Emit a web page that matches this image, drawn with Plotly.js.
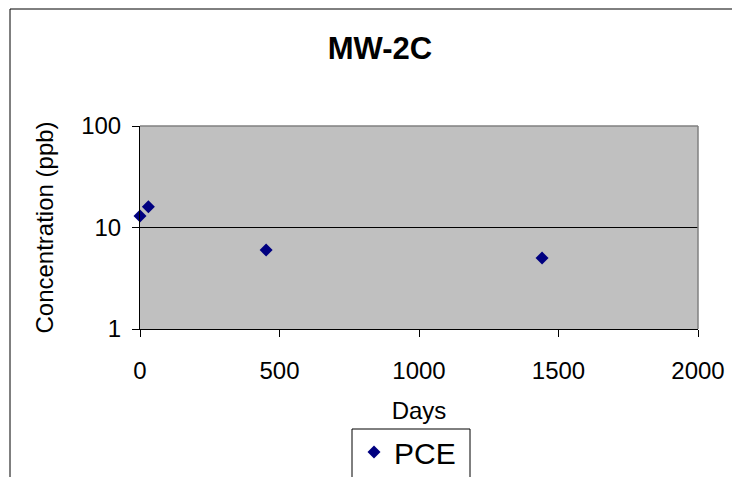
<!DOCTYPE html>
<html>
<head>
<meta charset="utf-8">
<script src="https://cdn.plot.ly/plotly-3.0.1.min.js"></script>
<style>html,body{margin:0;padding:0;background:#fff;}#chart{width:732px;height:477px;}</style>
</head>
<body>
<div id="chart"></div>
<script>
const days = [0, 30, 452, 1441];
const pce = [13, 16, 6, 5];
const seriesName = 'PCE';
const chartTitle = 'MW-2C';
const xTickVals = [0, 500, 1000, 1500, 2000];
const yTickVals = [1, 10, 100];
const yTickText = ['1', '10', '100'];

const font = 'Arial, "Liberation Sans", sans-serif';

const trace = {
  x: days, y: pce, name: seriesName, type: 'scatter', mode: 'markers',
  marker: {symbol: 'diamond', size: 10, color: '#000080'},
  showlegend: true, cliponaxis: false
};

const px = v => (v - 140) / 558;      // pixel x -> paper x
const py = v => (329 - v) / 203;      // pixel y -> paper y

const layout = {
  width: 732, height: 477,
  margin: {l: 140, r: 34, t: 126, b: 148, pad: 0, autoexpand: false},
  paper_bgcolor: '#ffffff', plot_bgcolor: '#C0C0C0',
  font: {family: font, color: '#000000', size: 24},
  title: {text: '<b>' + chartTitle + '</b>', font: {family: font, size: 31, color: '#000'},
    x: px(380), xref: 'paper', xanchor: 'center', y: 1 - 48/477, yref: 'container', yanchor: 'middle'},
  xaxis: {
    range: [0, 2000], tickvals: xTickVals, ticktext: xTickVals.map(String),
    showgrid: false, zeroline: false, showline: true, linecolor: '#000', linewidth: 1,
    ticks: 'outside', ticklen: 7, tickcolor: '#000', tickfont: {size: 24},
    ticklabelstandoff: 13,
    title: {text: 'Days', font: {size: 24}, standoff: 19}, automargin: false
  },
  yaxis: {
    type: 'log', range: [0, 2], tickvals: yTickVals, ticktext: yTickText,
    showgrid: true, gridcolor: '#000', gridwidth: 1, zeroline: false,
    showline: true, linecolor: '#000', linewidth: 1,
    ticks: 'outside', ticklen: 7, tickcolor: '#000', tickfont: {size: 24},
    ticklabelstandoff: 6,
    title: {text: 'Concentration (ppb)', font: {size: 24}, standoff: 20}, automargin: false
  },
  legend: {x: px(354), y: 1 - 426/477, xref: 'paper', yref: 'container', xanchor: 'left', yanchor: 'top',
    bgcolor: 'rgba(0,0,0,0)', borderwidth: 0, font: {size: 30}},
  shapes: [
    {type: 'rect', xref: 'paper', yref: 'paper', x0: px(10), x1: 2, y0: -2, y1: py(9),
      line: {color: '#000', width: 1}, fillcolor: 'rgba(0,0,0,0)', layer: 'below'},
    {type: 'rect', xref: 'paper', yref: 'paper', x0: px(352), x1: px(470), y0: py(520), y1: py(429),
      line: {color: '#000', width: 1}, fillcolor: '#fff', layer: 'below'},
    {type: 'line', xref: 'paper', yref: 'paper', x0: 0, x1: 1, y0: 1, y1: 1,
      line: {color: '#808080', width: 1.5}, layer: 'above'},
    {type: 'line', xref: 'paper', yref: 'paper', x0: 1, x1: 1, y0: 0, y1: 1,
      line: {color: '#808080', width: 1.5}, layer: 'above'}
  ]
};

Plotly.newPlot('chart', [trace], layout, {displayModeBar: false, staticPlot: true});
</script>
</body>
</html>
